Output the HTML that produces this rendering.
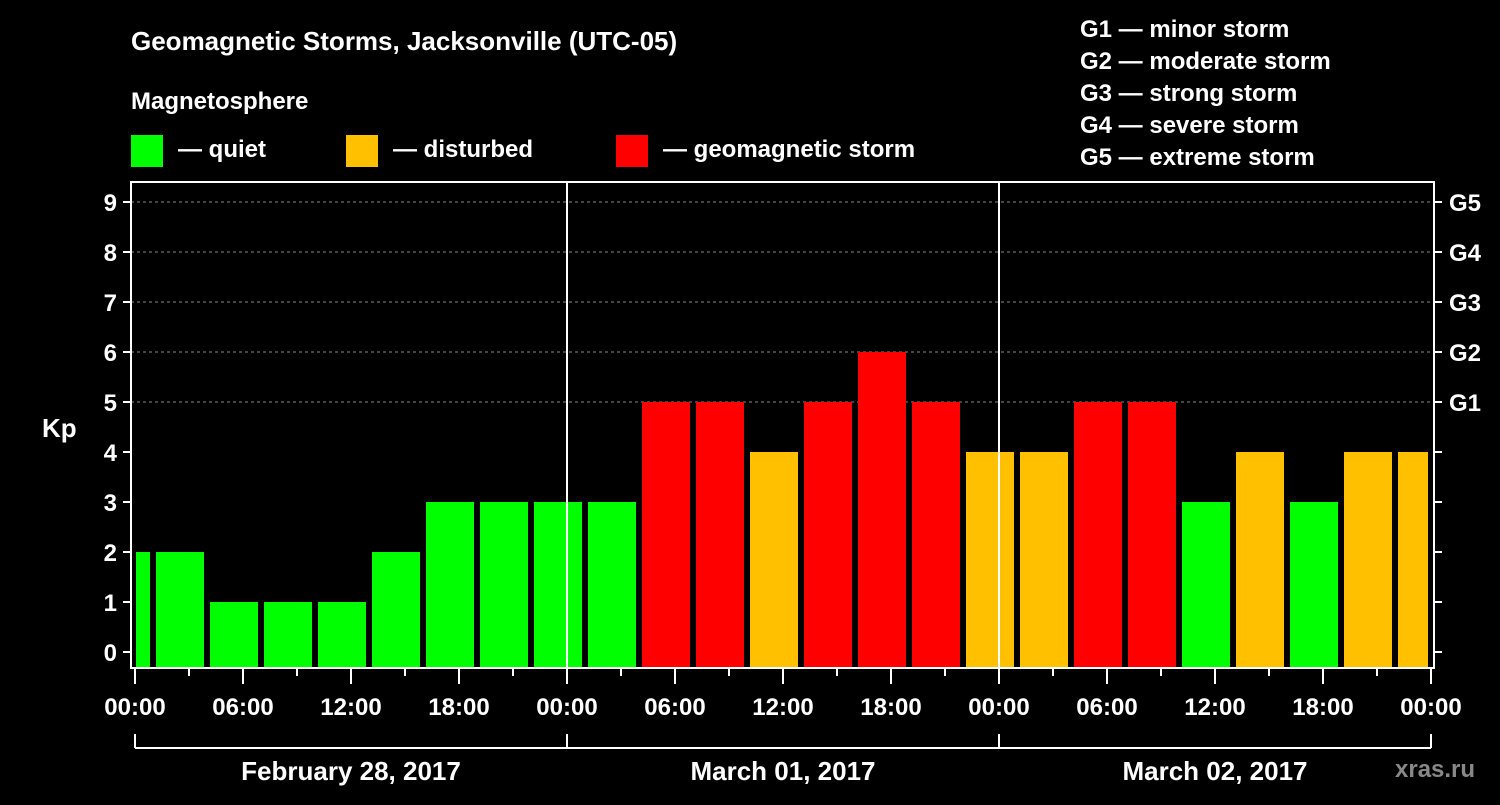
<!DOCTYPE html>
<html><head><meta charset="utf-8"><style>
body{margin:0;background:#000;width:1500px;height:800px;overflow:hidden}
svg text{font-family:"Liberation Sans",sans-serif;font-weight:bold;fill:#fff}
</style></head><body>
<svg id="c" width="1500" height="800">
<text x="131" y="50" font-size="26">Geomagnetic Storms, Jacksonville (UTC-05)</text>
<text x="131" y="109" font-size="24">Magnetosphere</text>
<rect x="131" y="135" width="32" height="32" fill="#00ff00"/>
<text x="178" y="157" font-size="24">— quiet</text>
<rect x="346" y="135" width="32" height="32" fill="#ffc000"/>
<text x="393" y="157" font-size="24">— disturbed</text>
<rect x="616" y="135" width="32" height="32" fill="#ff0000"/>
<text x="663" y="157" font-size="24">— geomagnetic storm</text>
<g font-size="24">
<text x="1080" y="37">G1 — minor storm</text>
<text x="1080" y="69">G2 — moderate storm</text>
<text x="1080" y="101">G3 — strong storm</text>
<text x="1080" y="133">G4 — severe storm</text>
<text x="1080" y="165">G5 — extreme storm</text>
</g>
<text x="42" y="437" font-size="26">Kp</text>
<text x="1395" y="777" font-size="24" fill="#888" style="fill:#888">xras.ru</text>
<g id="plot"></g>
</svg>
<script>
const kpValues=[2,2,1,1,1,2,3,3,3,3,5,5,4,5,6,5,4,4,5,5,3,4,3,4,4];
const startHours=[-2,1,4,7,10,13,16,19,22,25,28,31,34,37,40,43,46,49,52,55,58,61,64,67,70];
const yTicks=[0,1,2,3,4,5,6,7,8,9];
const gLabels=["G1","G2","G3","G4","G5"];
const xTickLabels=["00:00","06:00","12:00","18:00","00:00","06:00","12:00","18:00","00:00","06:00","12:00","18:00","00:00"];
const dayLabels=["February 28, 2017","March 01, 2017","March 02, 2017"];
const NS="http://www.w3.org/2000/svg";
const g=document.getElementById('plot');
const X=h=>135+h*18, Y=v=>652-v*50;
const L=131,R=1434,T=182,B=668;
function mk(t,a,p){const e=document.createElementNS(NS,t);for(const k in a)e.setAttribute(k,a[k]);(p||g).appendChild(e);return e;}
function color(v){return v>=5?"#ff0000":v>=4?"#ffc000":"#00ff00";}
// grid
for(let v=5;v<=9;v++){const e=mk('line',{x1:L,x2:R,y1:Y(v),y2:Y(v),stroke:"#888","stroke-dasharray":"3,3"});

}
// bars
kpValues.forEach((v,i)=>{const s=startHours[i];
let x0=Math.max(X(s)+3,136),x1=Math.min(X(s+3)-3,1428);
const e=mk('rect',{x:x0,y:Y(v),width:x1-x0,height:B-Y(v),fill:color(v)});

});
// day separators
[1,2].forEach(d=>{const e=mk('line',{x1:X(24*d),x2:X(24*d),y1:T,y2:B,stroke:"#fff","stroke-width":2});

});
// frame
const fr=mk('rect',{x:L,y:T,width:R-L,height:B-T,fill:"none",stroke:"#fff","stroke-width":2});


// y ticks
yTicks.forEach(v=>{mk('line',{x1:L-8,x2:L,y1:Y(v),y2:Y(v),stroke:"#fff","stroke-width":2});
mk('line',{x1:R,x2:R+8,y1:Y(v),y2:Y(v),stroke:"#fff","stroke-width":2});
const t=mk('text',{x:L-14,y:Y(v)+9,"font-size":24,"text-anchor":"end"});t.textContent=v;

});
gLabels.forEach((s,i)=>{const t=mk('text',{x:1449,y:Y(5+i)+9,"font-size":24});t.textContent=s;

});
// x ticks
for(let h=0;h<=72;h+=3){const major=h%6==0;mk('line',{x1:X(h),x2:X(h),y1:B,y2:B+(major?16:8),stroke:"#fff","stroke-width":2});}
xTickLabels.forEach((s,i)=>{const t=mk('text',{x:X(i*6),y:715,"font-size":24,"text-anchor":"middle"});t.textContent=s;

});
// day bracket
mk('line',{x1:X(0),x2:X(72),y1:748,y2:748,stroke:"#fff","stroke-width":2});
[0,24,48,72].forEach(h=>mk('line',{x1:X(h),x2:X(h),y1:734,y2:748,stroke:"#fff","stroke-width":2}));
dayLabels.forEach((s,i)=>{const t=mk('text',{x:X(24*i+12),y:780,"font-size":26,"text-anchor":"middle"});t.textContent=s;

});
</script>
</body></html>
